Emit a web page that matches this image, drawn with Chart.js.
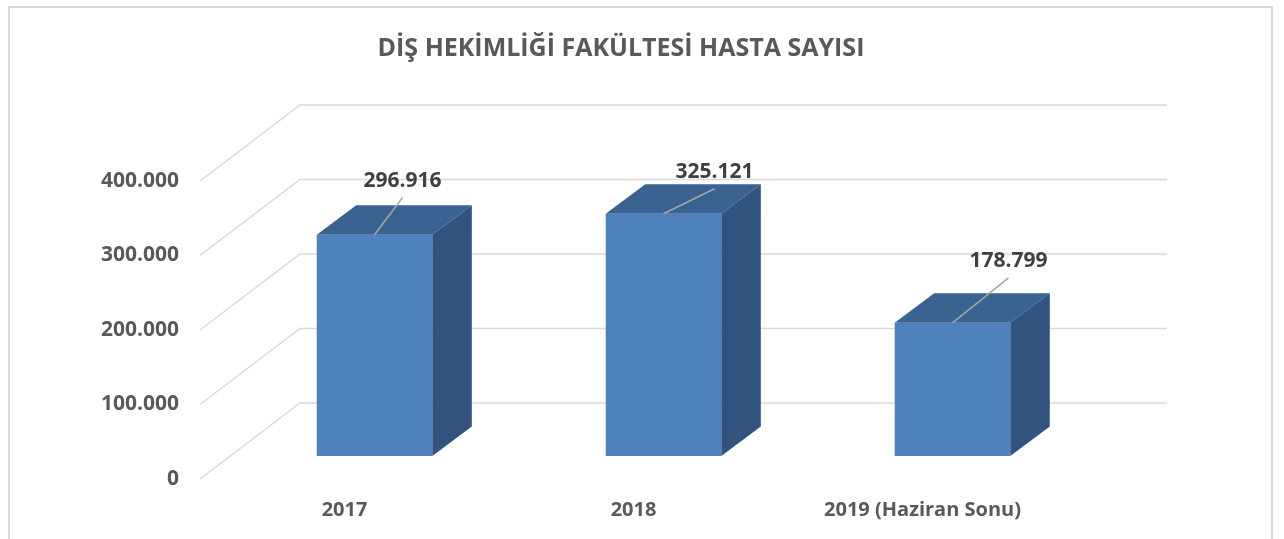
<!DOCTYPE html>
<html>
<head>
<meta charset="utf-8">
<script src="https://cdn.jsdelivr.net/npm/chart.js@4/dist/chart.umd.min.js"></script>
<style>
  html, body { margin: 0; padding: 0; background: #fff; }
  #wrap { width: 1284px; height: 539px; }
</style>
</head>
<body>
<div id="wrap"><canvas id="chart" width="1284" height="539"></canvas></div>
<script>
const chartTitle = 'DİŞ HEKİMLİĞİ FAKÜLTESİ HASTA SAYISI';
const categories = ['2017', '2018', '2019 (Haziran Sonu)'];
const patientCounts = [296916, 325121, 178799];
const yTicks = [0, 100000, 200000, 300000, 400000];

const fmt = (v) => v.toLocaleString('de-DE');

// 3d offsets
const wallDx = 100, wallDy = -76;
const frontDx = 30, frontDy = -23;
const barDx = 39.5, barDy = -29.5;
const labelNudge = [[28, -54], [51, -42], [56, -62]];

const faceColors = { front: '#4f81bd', top: '#3b6391', side: '#31537d' };

const threeD = {
  id: 'threeD',
  beforeDraw(chart) {
    const ctx = chart.ctx;
    ctx.save();
    ctx.fillStyle = '#fff';
    ctx.fillRect(0, 0, chart.width, chart.height);
    ctx.strokeStyle = '#d9d9d9';
    ctx.lineWidth = 2;
    ctx.strokeRect(9, 7, 1263, 560);
    // title
    ctx.fillStyle = '#595959';
    ctx.font = 'bold 25px "Open Sans"';
    ctx.textAlign = 'center';
    ctx.textBaseline = 'middle';
    ctx.fillText(chartTitle, 621, 49);
    ctx.restore();
  },
  beforeDatasetsDraw(chart) {
    const { ctx, chartArea, scales } = chart;
    ctx.save();
    ctx.strokeStyle = '#d9d9d9';
    ctx.lineWidth = 1.5;
    yTicks.forEach(t => {
      const py = scales.y.getPixelForValue(t);
      ctx.beginPath();
      ctx.moveTo(chartArea.left, py);
      ctx.lineTo(chartArea.left + wallDx, py + wallDy);
      ctx.lineTo(chartArea.right + wallDx, py + wallDy);
      ctx.stroke();
    });
    ctx.restore();
  },
  afterDatasetsDraw(chart) {
    const ctx = chart.ctx;
    const meta = chart.getDatasetMeta(0);
    ctx.save();
    meta.data.forEach((bar, i) => {
      const l = bar.x - bar.width / 2 + frontDx;
      const r = l + bar.width;
      const t = bar.y + frontDy;
      const b = bar.base + frontDy;

      ctx.fillStyle = faceColors.front;
      ctx.fillRect(l, t, r - l, b - t);

      ctx.fillStyle = faceColors.top;
      ctx.beginPath();
      ctx.moveTo(l, t);
      ctx.lineTo(r, t);
      ctx.lineTo(r + barDx, t + barDy);
      ctx.lineTo(l + barDx, t + barDy);
      ctx.closePath();
      ctx.fill();

      ctx.fillStyle = faceColors.side;
      ctx.beginPath();
      ctx.moveTo(r, t);
      ctx.lineTo(r + barDx, t + barDy);
      ctx.lineTo(r + barDx, b + barDy);
      ctx.lineTo(r, b);
      ctx.closePath();
      ctx.fill();

      // leader line + value label
      const sx = (l + r) / 2, sy = t;
      const lx = sx + labelNudge[i][0], ly = sy + labelNudge[i][1];
      ctx.strokeStyle = '#a6a6a6';
      ctx.lineWidth = 1.5;
      ctx.beginPath();
      ctx.moveTo(sx, sy);
      ctx.lineTo(lx, ly + 17);
      ctx.stroke();

      ctx.fillStyle = '#404040';
      ctx.font = 'bold 21px "Open Sans"';
      ctx.textAlign = 'center';
      ctx.textBaseline = 'middle';
      ctx.fillText(fmt(patientCounts[i]), lx, ly);
    });
    ctx.restore();
  }
};

new Chart(document.getElementById('chart'), {
  type: 'bar',
  data: {
    labels: categories,
    datasets: [{
      data: patientCounts,
      backgroundColor: 'rgba(0,0,0,0)',
      borderWidth: 0,
      categoryPercentage: 0.4,
      barPercentage: 1
    }]
  },
  options: {
    responsive: false,
    animation: false,
    events: [],
    layout: { padding: { left: 0, right: 217, top: 181, bottom: 0 } },
    plugins: {
      legend: { display: false },
      tooltip: { enabled: false },
      title: { display: false }
    },
    scales: {
      x: {
        afterFit: (s) => { s.height = 60; },
        grid: { display: false, drawTicks: false },
        border: { display: false },
        ticks: {
          color: '#595959',
          font: { family: 'Open Sans', size: 20, weight: 'bold' },
          padding: 19,
          maxRotation: 0
        }
      },
      y: {
        min: 0,
        max: 400000,
        afterFit: (s) => { s.width = 200; },
        afterBuildTicks: (s) => { s.ticks = yTicks.map(v => ({ value: v })); },
        grid: { display: false, drawTicks: false },
        border: { display: false },
        ticks: {
          color: '#595959',
          font: { family: 'Open Sans', size: 21, weight: 'bold' },
          padding: 21,
          callback: (v) => fmt(v)
        }
      }
    }
  },
  plugins: [threeD]
});
</script>
</body>
</html>
